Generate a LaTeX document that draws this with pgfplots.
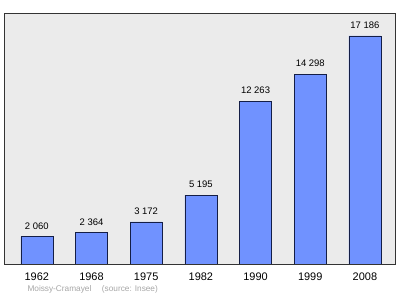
\documentclass[border=0pt]{standalone}
\usepackage{pgfplots}
\pgfplotsset{compat=1.18}
\usepackage{fontspec}
\setmainfont{Liberation Sans}
\definecolor{barfill}{RGB}{112,146,255}
\definecolor{bardraw}{RGB}{20,30,70}
\definecolor{bg}{RGB}{235,235,235}
\begin{document}
\begin{tikzpicture}[x=1bp,y=1bp]
\useasboundingbox (-4,-35) rectangle (396,264);
\begin{axis}[
  at={(0,0)}, anchor=south west,
  scale only axis, width=391bp, height=251bp,
  axis background/.style={fill=bg},
  axis line style={draw=black!80, line width=0.8pt},
  xmin=-0.6, xmax=6.55, ymin=0, ymax=18905,
  ytick=\empty,
  xtick={0,...,6},
  xticklabels={1962,1968,1975,1982,1990,1999,2008},
  major tick length=0pt,
  xticklabel style={font=\fontsize{11}{12}\selectfont, yshift=-5bp},
  ybar, bar width=32bp,
  nodes near coords,
  nodes near coords style={font=\fontsize{9.5}{10}\selectfont, text=black, yshift=3.5bp},
  /pgf/number format/.cd, 1000 sep={\ }, assume math mode=true,
]
\addplot[fill=barfill, draw=bardraw, line width=0.6pt] coordinates {
(0,2060) (1,2364) (2,3172) (3,5195) (4,12263) (5,14298) (6,17186)};
\end{axis}
\node[anchor=west, text=black!35, font=\fontsize{8.3}{9}\selectfont] at (20,-25) {Moissy-Cramayel\quad\ (source: Insee)};
\end{tikzpicture}
\end{document}
